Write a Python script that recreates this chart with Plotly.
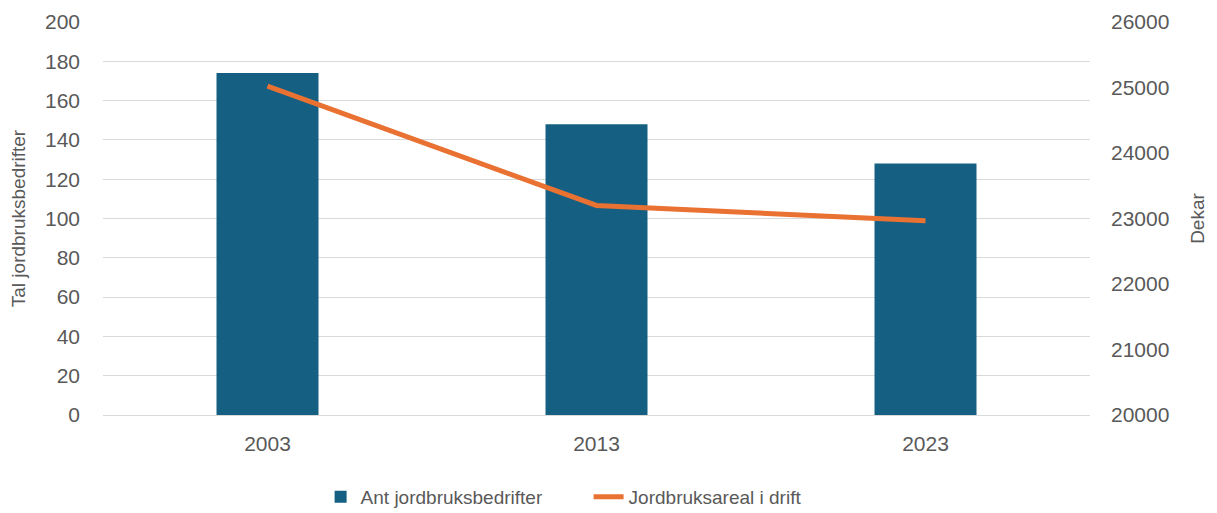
import plotly.graph_objects as go

years = ["2003", "2013", "2023"]
bedrifter = [174, 148, 128]
areal = [25020, 23200, 22965]

left_ticks = [0, 20, 40, 60, 80, 100, 120, 140, 160, 180, 200]
right_ticks = [20000, 21000, 22000, 23000, 24000, 25000, 26000]

font_fam = "Liberation Sans, Arial, sans-serif"
grey = "#595959"
tick_size = 21

fig = go.Figure()
fig.add_trace(go.Bar(
    x=years, y=bedrifter, name="Ant jordbruksbedrifter",
    marker=dict(color="#156082", line=dict(width=0)),
    yaxis="y",
))
fig.add_trace(go.Scatter(
    x=years, y=areal, name="Jordbruksareal i drift",
    mode="lines", line=dict(color="#E97132", width=5),
    yaxis="y2",
))

fig.update_layout(
    width=1209, height=505,
    margin=dict(l=95, r=127, t=14, b=98, autoexpand=False),
    paper_bgcolor="white", plot_bgcolor="white",
    font=dict(family=font_fam, size=tick_size, color=grey),
    bargap=0.69,
    showlegend=True,
    legend=dict(orientation="h", x=0.492, xanchor="center", y=-0.16, yanchor="top",
                font=dict(size=19, color=grey), entrywidth=223, entrywidthmode="pixels"),
    xaxis=dict(showgrid=False, showline=True, linecolor="#d9d9d9", linewidth=1,
               ticks="", ticklabelstandoff=10, automargin=False,
               tickfont=dict(size=tick_size, color=grey)),
    yaxis=dict(range=[0, 200], tickvals=left_ticks, showgrid=True, gridcolor="#d9d9d9",
               gridwidth=1, zeroline=False, ticks="", ticklabelstandoff=22, automargin=False,
               title=dict(text="Tal jordbruksbedrifter", font=dict(size=19, color=grey), standoff=16),
               tickfont=dict(size=tick_size, color=grey)),
    yaxis2=dict(range=[20000, 26000], tickvals=right_ticks,
                ticktext=[str(v) for v in right_ticks], overlaying="y", side="right",
                showgrid=False, zeroline=False, ticks="", ticklabelstandoff=20, automargin=False,
                title=dict(text="Dekar", font=dict(size=19, color=grey), standoff=22),
                tickfont=dict(size=tick_size, color=grey)),
)

fig.write_html("out.html")
